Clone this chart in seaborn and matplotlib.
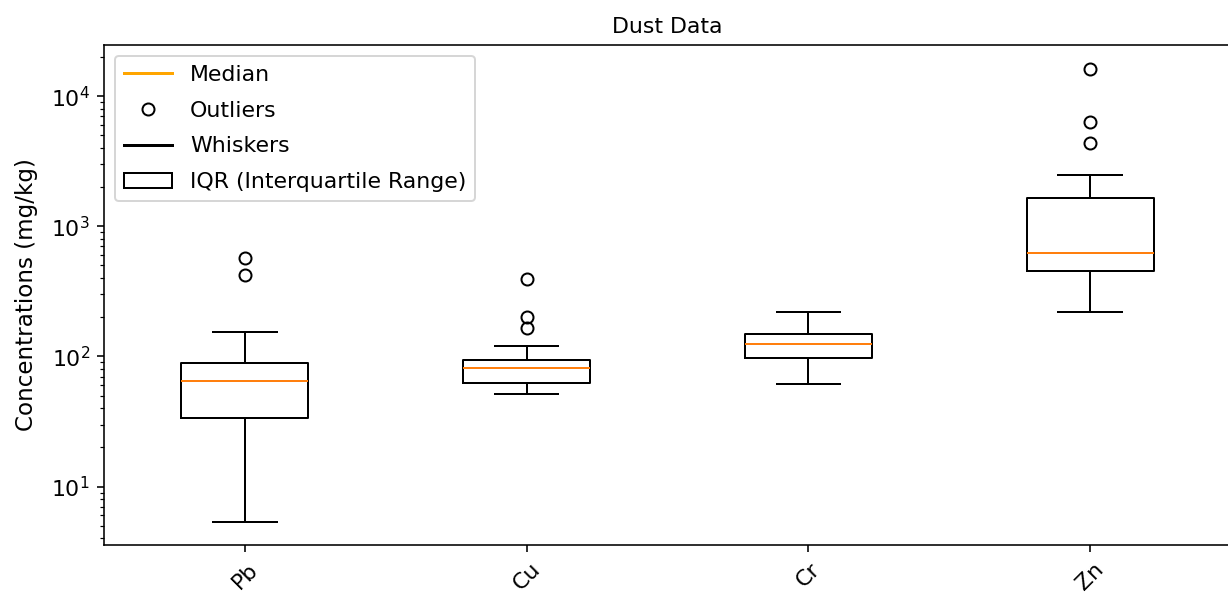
import numpy as np
import pandas as pd
import matplotlib
matplotlib.use("Agg")
import matplotlib.pyplot as plt
import seaborn as sns
from matplotlib.lines import Line2D
from matplotlib.patches import Patch

# Values (mg/kg)
elements = ["Pb", "Cu", "Cr", "Zn"]
whisker_low = [5.31, 51.2, 61.1, 221]
q1 = [33.9, 62.9, 96.9, 457]
median = [64.8, 81.2, 125, 621]
q3 = [88.7, 93.5, 148, 1643]
whisker_high = [153, 121, 221, 2470]
outliers = [[423, 574], [165, 202, 392], [], [4360, 6340, 16200]]


def build_samples(lo, a, m, b, hi, out):
    # repeat the read-off statistics so the percentiles land exactly on them
    k = len(out) + 1
    return [lo] + [a] * k + [m] * k + [b] * k + [hi] + list(out)


rows = []
for i, el in enumerate(elements):
    vals = build_samples(whisker_low[i], q1[i], median[i], q3[i], whisker_high[i], outliers[i])
    rows += [(el, v) for v in vals]
df = pd.DataFrame(rows, columns=["element", "value"])

plt.rcParams.update({
    "font.size": 11,
    "xtick.labelsize": 11,
    "ytick.labelsize": 11,
})

fig = plt.figure(figsize=(1228 / 144, 592 / 144), dpi=144)
ax = fig.add_axes([104 / 1228, 47 / 592, 1127 / 1228, 500 / 592])

sns.boxplot(
    data=df, x="element", y="value", order=elements, ax=ax,
    width=0.45, fill=False, color="black", linecolor="black", linewidth=1,
    fliersize=6,
    medianprops=dict(color="#ff7f0e", linewidth=1),
    whiskerprops=dict(color="black", linewidth=1),
    capprops=dict(color="black", linewidth=1),
    flierprops=dict(marker="o", markerfacecolor="none", markeredgecolor="black",
                    markersize=6, linestyle="none"),
)
ax.set_yscale("log")
ax.set_ylim(3.56, 24700)
ax.set_xlim(-0.5, 3.5)

ax.set_title("Dust Data", fontsize=11)
ax.set_xlabel("")
ax.set_ylabel("Concentrations (mg/kg)", fontsize=11.5, labelpad=6.5)
plt.setp(ax.get_xticklabels(), rotation=45)

handles = [
    Line2D([0], [0], color="orange", lw=1.5, label="Median"),
    Line2D([0], [0], marker="o", color="black", markerfacecolor="none",
           linestyle="none", label="Outliers"),
    Line2D([0], [0], color="black", lw=1.5, label="Whiskers"),
    Patch(facecolor="white", edgecolor="black", label="IQR (Interquartile Range)"),
]
ax.legend(handles=handles, loc="upper left", fontsize=11,
          labelspacing=0.72, handlelength=2.2)

fig.savefig("out.png", dpi=144)
